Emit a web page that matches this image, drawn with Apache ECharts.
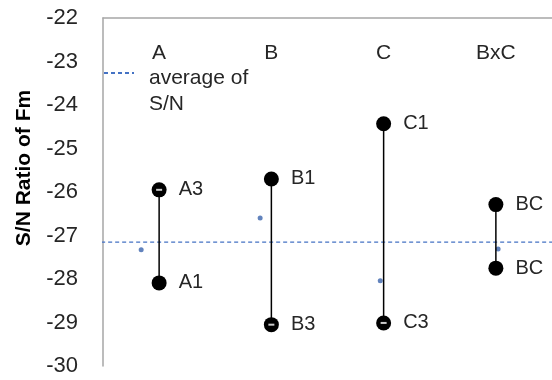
<!DOCTYPE html>
<html>
<head>
<meta charset="utf-8">
<script src="https://cdn.jsdelivr.net/npm/echarts@6/dist/echarts.min.js"></script>
<style>html,body{margin:0;padding:0;background:#fff}#c{width:552px;height:380px}</style>
</head>
<body>
<div id="c"></div>
<script>
// ---- data ----
var categories = ['A', 'B', 'C', 'BxC'];
var highValues = [-25.95, -25.70, -24.43, -26.29];
var lowValues  = [-28.09, -29.05, -29.01, -27.75];
var highLabels = ['A3', 'B1', 'C1', 'BC'];
var lowLabels  = ['A1', 'B3', 'C3', 'BC'];
var dotX = [0.34, 1.40, 2.47, 3.52];
var dotValues = [-27.33, -26.60, -28.04, -27.31];
var averageSN = -27.15;
var avgLineX = [-0.64, 4.6];
var yTicks = [-30, -22, 1]; // min, max, interval

var textColor = '#262626';
var fontFam = 'Liberation Sans, Arial, sans-serif';

var series = [];
series.push({
  name: 'average of S/N',
  type: 'line',
  xAxisIndex: 1,
  clip: false,
  symbol: 'none',
  silent: true,
  data: avgLineX.map(function (x) { return [x, averageSN]; }),
  lineStyle: { color: '#4472C4', width: 1.3, type: [4, 3] },
  itemStyle: { color: '#4472C4' },
  z: 1
});
var dashPts = [];
categories.forEach(function (c, i) {
  var pts = [[i + 0.5, highValues[i]], [i + 0.5, lowValues[i]]];
  var labs = [highLabels[i], lowLabels[i]];
  labs.forEach(function (l, k) { if (/3$/.test(l)) dashPts.push(pts[k]); });
  series.push({
    name: c,
    type: 'line',
    xAxisIndex: 1,
    symbol: 'circle',
    symbolSize: 15,
    data: pts,
    itemStyle: { color: '#000' },
    lineStyle: { color: '#000', width: 1.5 },
    label: {
      show: true,
      position: 'right',
      distance: 12,
      fontSize: 20,
      fontFamily: fontFam,
      color: textColor,
      formatter: function (p) { return labs[p.dataIndex]; }
    },
    z: 3
  });
});
series.push({
  name: 'dots',
  type: 'scatter',
  xAxisIndex: 1,
  symbolSize: 5,
  data: dotX.map(function (x, i) { return [x, dotValues[i]]; }),
  itemStyle: { color: '#3B64AD' },
  z: 2
});
series.push({
  name: 'dash',
  type: 'scatter',
  xAxisIndex: 1,
  symbol: 'rect',
  symbolSize: [6, 2],
  data: dashPts,
  itemStyle: { color: '#fff' },
  silent: true,
  z: 5
});

var chart = echarts.init(document.getElementById('c'), null, { renderer: 'canvas' });
chart.setOption({
  animation: false,
  backgroundColor: '#fff',
  textStyle: { fontFamily: fontFam },
  grid: { left: 103, top: 18, width: 458, height: 348 },
  legend: {
    data: ['average of S/N'],
    left: 103,
    top: 42,
    padding: 0,
    itemWidth: 30,
    itemHeight: 14,
    itemStyle: { color: 'rgba(0,0,0,0)', borderWidth: 0 },
    formatter: function () { return '{s| }\n{t|average of}\n{t|S/N}'; },
    textStyle: {
      fontSize: 21, color: textColor, fontFamily: fontFam,
      rich: {
        s: { fontSize: 10, lineHeight: 36 },
        t: { fontSize: 21, lineHeight: 26, color: textColor, fontFamily: fontFam, padding: [0, 0, 0, 10] }
      }
    }
  },
  xAxis: [{
    type: 'category',
    position: 'top',
    data: categories,
    boundaryGap: true,
    axisLine: { show: true, lineStyle: { color: '#A6A6A6', width: 1.5 } },
    axisTick: { show: false },
    splitLine: { show: false },
    axisLabel: { inside: true, margin: 25, fontSize: 21, color: textColor, fontFamily: fontFam }
  }, {
    type: 'value',
    min: 0,
    max: 4,
    show: false,
    splitLine: { show: false }
  }],
  yAxis: {
    type: 'value',
    min: yTicks[0],
    max: yTicks[1],
    interval: yTicks[2],
    name: 'S/N Ratio of Fm',
    nameLocation: 'middle',
    nameGap: 68,
    nameTextStyle: { fontSize: 21, fontWeight: 'bold', color: '#000', fontFamily: fontFam, padding: [0, 0, 0, 48] },
    axisLine: { show: true, lineStyle: { color: '#A6A6A6', width: 1.5 } },
    axisTick: { show: false },
    splitLine: { show: false },
    axisLabel: { margin: 25, fontSize: 22, color: textColor, fontFamily: fontFam }
  },
  series: series
});
</script>
</body>
</html>
